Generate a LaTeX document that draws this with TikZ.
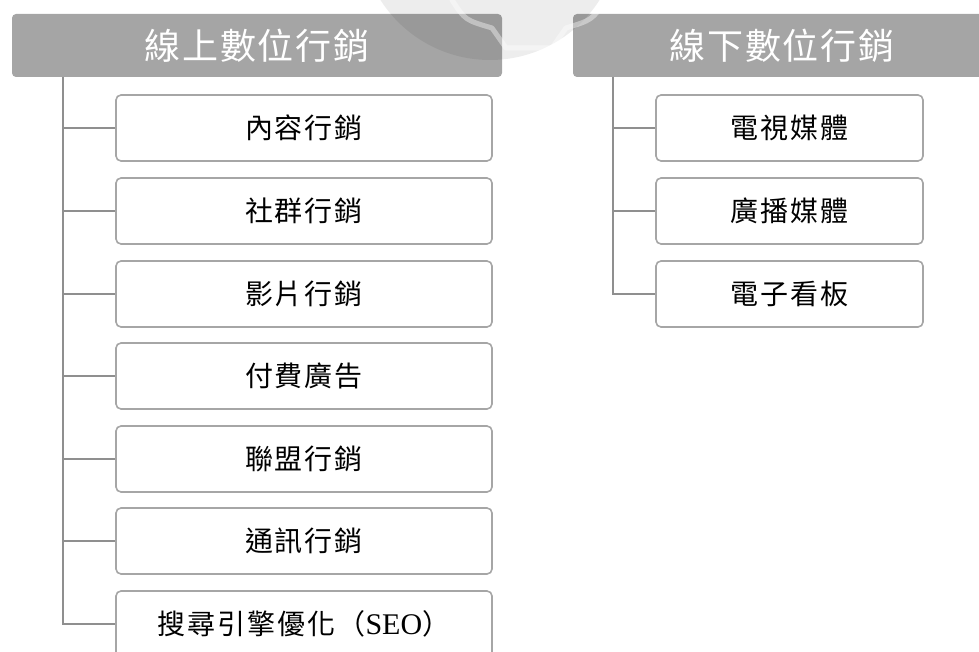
\documentclass[tikz,border=0pt]{standalone}
\usepackage{fontspec}
\newfontfamily\cjkhead[LetterSpace=5]{Noto Sans CJK TC}
\newfontfamily\cjkbox[LetterSpace=7]{Noto Sans CJK TC}
\newfontfamily\latserif{Liberation Serif}
\definecolor{headgray}{HTML}{A5A5A5}
\definecolor{boxgray}{HTML}{A6A6A6}
\definecolor{linegray}{HTML}{8F8F8F}
\tikzset{
  headbox/.style={fill=headgray, rounded corners=4pt, minimum width=490pt, minimum height=63pt,
    inner sep=0pt, text=white, font=\cjkhead\fontsize{36pt}{40pt}\selectfont},
  leafbox/.style={draw=boxgray, line width=1.6pt, fill=white, rounded corners=5pt,
    minimum height=66pt, inner sep=0pt, font=\cjkbox\fontsize{28pt}{32pt}\selectfont},
  leftleaf/.style={leafbox, minimum width=376pt},
  rightleaf/.style={leafbox, minimum width=267pt},
  conn/.style={draw=linegray, line width=1.8pt}
}
\begin{document}
\begin{tikzpicture}[x=1pt,y=-1pt]
\useasboundingbox (0,0) rectangle (979,652);
% headers
\node[headbox] (hL) at (257,45.5) {線上數位行銷\hspace{-1.8pt}};
\node[headbox] (hR) at (818,45.5) {\hspace{-72pt}線下數位行銷\hspace{-1.8pt}};
% left leaves
\node[leftleaf] (c1) at (304,128) {內容行銷\hspace{-2pt}};
\node[leftleaf] (c2) at (304,211) {社群行銷\hspace{-2pt}};
\node[leftleaf] (c3) at (304,294) {影片行銷\hspace{-2pt}};
\node[leftleaf] (c4) at (304,376) {付費廣告\hspace{-2pt}};
\node[leftleaf] (c5) at (304,459) {聯盟行銷\hspace{-2pt}};
\node[leftleaf] (c6) at (304,541) {通訊行銷\hspace{-2pt}};
\node[leftleaf] (c7) at (304,624) {搜尋引擎優化（{\latserif\fontsize{30pt}{32pt}\selectfont SEO}）\hspace{-2pt}};
% right leaves
\node[rightleaf] (d1) at (789.5,128) {電視媒體\hspace{-2pt}};
\node[rightleaf] (d2) at (789.5,211) {廣播媒體\hspace{-2pt}};
\node[rightleaf] (d3) at (789.5,294) {電子看板\hspace{-2pt}};
% connectors
\coordinate (tL) at (63,77);
\coordinate (tR) at (613,77);
\draw[conn] (tL) |- (c7.west);
\foreach \n in {c1,c2,c3,c4,c5,c6}{\draw[conn] (tL |- \n.west) -- (\n.west);}
\draw[conn] (tR) |- (d3.west);
\foreach \n in {d1,d2}{\draw[conn] (tR |- \n.west) -- (\n.west);}
% faint watermark
\fill[black, opacity=0.07] (490,-70) circle (130);
\draw[white, opacity=0.4, line width=5pt, line cap=round, line join=round]
  (452,0) .. controls (465,20) .. (492,28) -- (506,48) -- (552,48) -- (566,28) .. controls (592,20) .. (606,0);
\end{tikzpicture}
\end{document}
